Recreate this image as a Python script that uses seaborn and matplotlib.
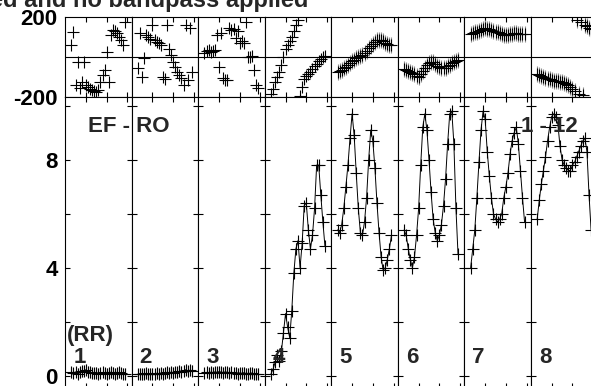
import matplotlib
matplotlib.use('Agg')
import pandas as pd
import matplotlib.pyplot as plt
import seaborn as sns

# channels plotted in every IF (edge channels flagged)
channels = list(range(3, 30))
if_names = ['1', '2', '3', '4', '5', '6', '7', '8']

# amplitude per IF
amp_1 = [0.12, 0.10, 0.14, 0.08, 0.12, 0.16, 0.18, 0.22, 0.15, 0.12, 0.10, 0.09, 0.11, 0.08,
         0.10, 0.12, 0.09, 0.07, 0.10, 0.13, 0.11, 0.08, 0.09, 0.12, 0.10, 0.08, 0.07]
amp_2 = [0.06, 0.08, 0.05, 0.07, 0.09, 0.06, 0.08, 0.07, 0.05, 0.09, 0.08, 0.10, 0.07, 0.09,
         0.12, 0.10, 0.13, 0.11, 0.14, 0.12, 0.16, 0.15, 0.18, 0.22, 0.17, 0.20, 0.19]
amp_3 = [0.10, 0.12, 0.09, 0.13, 0.11, 0.14, 0.12, 0.15, 0.13, 0.11, 0.14, 0.12, 0.10, 0.12,
         0.09, 0.11, 0.08, 0.10, 0.09, 0.11, 0.08, 0.07, 0.09, 0.10, 0.06, 0.08, 0.07]
amp_4 = [0.07, 0.25, 0.5, 0.75, 0.55, 0.9, 1.6, 2.3, 1.8, 1.4, 2.4, 3.8, 4.7, 5.0,
         4.0, 4.9, 6.3, 6.4, 5.4, 4.7, 5.2, 6.2, 7.8, 7.8, 6.7, 5.7, 4.8]
amp_5 = [5.4, 5.3, 5.6, 6.2, 7.0, 7.8, 8.8, 9.7, 8.9, 7.5, 6.2, 5.3, 5.2, 5.7,
         6.6, 8.0, 9.1, 8.7, 7.7, 6.4, 5.3, 4.4, 3.9, 4.0, 4.3, 4.7, 5.2]
amp_6 = [5.4, 5.2, 4.7, 4.3, 4.0, 4.4, 5.2, 6.2, 7.8, 9.2, 9.7, 9.1, 8.0, 6.8,
         5.8, 5.3, 5.0, 5.2, 5.6, 6.3, 7.3, 8.6, 9.7, 9.8, 8.6, 6.2, 4.5]
amp_7 = [4.0, 4.7, 5.4, 6.6, 7.9, 9.1, 9.8, 9.5, 8.3, 7.4, 6.6, 6.0, 5.8, 5.7,
         5.8, 6.0, 6.6, 7.0, 7.5, 8.2, 8.7, 9.0, 9.2, 8.6, 7.6, 6.6, 5.7]
amp_8 = [5.8, 6.5, 7.1, 7.6, 8.1, 8.7, 9.2, 9.6, 9.7, 9.6, 9.3, 8.5, 8.0, 7.8,
         7.7, 7.6, 7.6, 7.8, 7.9, 8.1, 8.3, 8.5, 8.7, 8.8, 8.3, 6.7, 5.4]

# phase (degrees) per IF
phase_1 = [62, 128, -138, -22, -155, -122, -22, -140, -150, -160, -164, -170, -172, -165,
           -122, -90, -64, 28, -122, 110, 136, 130, 120, 100, 86, 60, 178]
phase_2 = [-55, 120, -97, -5, 110, 100, 90, 162, 85, 75, 70, 60, -100, -110,
           162, 40, 12, -22, -47, -72, -90, -105, -138, 162, -113, 145, -72]
phase_3 = [20, 30, 35, 28, 32, 38, 112, -47, 120, -105, -113, -113, 145, 135,
           140, 95, 130, 70, 80, 70, 178, 3, 3, 5, -64, -138, -155]
phase_4 = [-185, -160, -125, -100, -72, -40, 0, 40, 62, 80, 100, 130, 160, 185,
           -195, -150, -110, -95, -85, -72, -60, -45, -32, -20, -8, 0, 5]
phase_5 = [-72, -68, -62, -55, -47, -40, -30, -20, -13, -5, 0, 8, 12, 20,
           30, 45, 55, 65, 78, 85, 88, 86, 80, 72, 66, 62, 62]
phase_6 = [-58, -62, -68, -72, -78, -85, -92, -97, -85, -70, -55, -40, -30, -22,
           -25, -32, -42, -47, -52, -55, -52, -45, -38, -30, -25, -18, -13]
phase_7 = [118, 120, 125, 128, 132, 138, 142, 145, 143, 140, 135, 130, 128, 125,
           120, 116, 113, 112, 113, 116, 118, 120, 120, 118, 116, 115, 115]
phase_8 = [-82, -86, -92, -97, -102, -106, -110, -113, -116, -118, -120, -122, -124, -128,
           -132, -138, -146, -158, -170, 186, -182, 175, -188, 162, 155, 148, 142]

amp_err = [0.2, 0.2, 0.2, 0.1, 0.1, 0.1, 0.1, 0.1]
phase_err = [0, 0, 0, 10, 40, 40, 40, 40]

amps = [amp_1, amp_2, amp_3, amp_4, amp_5, amp_6, amp_7, amp_8]
phases = [phase_1, phase_2, phase_3, phase_4, phase_5, phase_6, phase_7, phase_8]

sns.set_style('ticks')
plt.rcParams['font.family'] = ['Liberation Sans', 'DejaVu Sans']
plt.rcParams['font.weight'] = 'bold'
plt.rcParams['font.size'] = 16

W, H = 591, 386
fig = plt.figure(figsize=(W / 100, H / 100), dpi=100)


def fx(px):
    return px / W


def fy(py):
    return 1 - py / H


x0, seg_w = 65.2, 66.54
ph_top, ph_bot = 17.3, 97.3
am_bot = 388.0

for k in range(8):
    left = fx(x0 + k * seg_w)
    ax_p = fig.add_axes([left, fy(ph_bot), seg_w / W, (ph_bot - ph_top) / H])
    ax_a = fig.add_axes([left, fy(am_bot), seg_w / W, (am_bot - ph_bot) / H])
    df = pd.DataFrame({'channel': channels, 'amp': amps[k], 'phase': phases[k]})

    # phase panel
    if phase_err[k]:
        ax_p.errorbar(df['channel'], df['phase'], yerr=phase_err[k], fmt='none',
                      ecolor='0.55', elinewidth=0.8, zorder=1)
    sns.scatterplot(data=df, x='channel', y='phase', marker='+', s=85, color='black',
                    linewidth=0.8, ax=ax_p, zorder=3)
    ax_p.axhline(0, color='black', lw=0.8)
    ax_p.set_ylim(-200, 200)
    ax_p.set_yticks([-200, 200])

    # amplitude panel
    ax_a.errorbar(df['channel'], df['amp'], yerr=amp_err[k], fmt='none',
                  ecolor='0.55', elinewidth=0.8, zorder=1)
    sns.lineplot(data=df, x='channel', y='amp', color='black', lw=0.7, ax=ax_a, zorder=2)
    sns.scatterplot(data=df, x='channel', y='amp', marker='+', s=85, color='black',
                    linewidth=0.8, ax=ax_a, zorder=3)
    ax_a.set_ylim(-(am_bot - 375.7) / 27, (375.7 - ph_bot) / 27)
    ax_a.set_yticks([0, 2, 4, 6, 8, 10])

    for ax in (ax_p, ax_a):
        ax.set_xlim(0, 32.1)
        ax.set_xticks([10, 20, 30])
        ax.set_xlabel('')
        ax.set_ylabel('')
        for sp in ax.spines.values():
            sp.set_color('black')
            sp.set_linewidth(0.8)
        ax.tick_params(direction='in', top=True, bottom=True, left=True, right=True,
                       labelbottom=False, labelleft=(k == 0), width=0.8, length=3.8,
                       colors='black', pad=5.5, labelsize=16)
    ax_p.tick_params(axis='y', length=0)
    if k == 0:
        ax_a.set_yticklabels(['0', '', '4', '', '8', ''], fontweight='bold')
        ax_p.set_yticklabels(['-200', '200'], fontweight='bold')

    fig.text(fx(x0 + k * seg_w + 8), fy(363), if_names[k], fontsize=16,
             fontweight='bold', ha='left', va='baseline')

fig.text(fx(87.5), fy(132), 'EF - RO', fontsize=16, fontweight='bold', va='baseline')
fig.text(fx(578), fy(132), '1 - 12', fontsize=16, fontweight='bold', ha='right',
         va='baseline', zorder=0)
fig.text(fx(67), fy(341), '(RR)', fontsize=16, fontweight='bold', va='baseline')
fig.text(fx(308.5), fy(6.7), 'Fringe fitted and no bandpass applied', fontsize=17,
         fontweight='bold', ha='right', va='baseline')

fig.savefig('out.png', dpi=100)
